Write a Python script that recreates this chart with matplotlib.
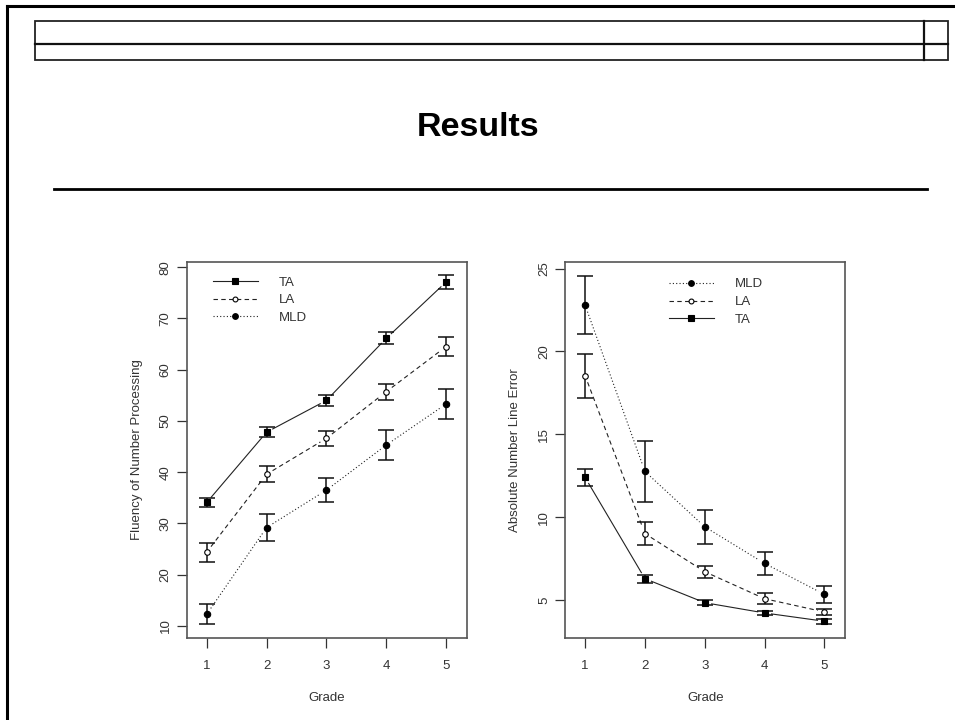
import numpy as np
import matplotlib
matplotlib.use('Agg')
import matplotlib.pyplot as plt
from matplotlib.lines import Line2D
from matplotlib.patches import Rectangle

plt.rcParams['font.family'] = ['Liberation Sans', 'DejaVu Sans']
plt.rcParams['font.size'] = 9

# Dados
grades = [1, 2, 3, 4, 5]

# Painel esquerdo: fluência
flu_ta = [34.1, 47.8, 54.0, 66.1, 77.1]
flu_ta_err = [0.95, 0.95, 1.0, 1.15, 1.3]
flu_la = [24.4, 39.6, 46.6, 55.7, 64.5]
flu_la_err = [1.85, 1.6, 1.45, 1.55, 1.8]
flu_mld = [12.3, 29.2, 36.5, 45.3, 53.3]
flu_mld_err = [2.0, 2.6, 2.35, 2.9, 3.0]

# Painel direito: erro da linha numérica
err_mld = [22.8, 12.76, 9.42, 7.21, 5.34]
err_mld_err = [1.75, 1.83, 1.03, 0.68, 0.5]
err_la = [18.54, 9.01, 6.71, 5.08, 4.28]
err_la_err = [1.33, 0.69, 0.37, 0.34, 0.19]
err_ta = [12.4, 6.29, 4.84, 4.22, 3.72]
err_ta_err = [0.5, 0.25, 0.14, 0.12, 0.14]

left_yticks = [10, 20, 30, 40, 50, 60, 70, 80]
right_yticks = [5, 10, 15, 20, 25]

styles = {
    'TA': {'ls': '-', 'marker': 's', 'mfc': 'black', 'ms': 5},
    'LA': {'ls': (0, (4, 3)), 'marker': 'o', 'mfc': 'white', 'ms': 4},
    'MLD': {'ls': (0, (1, 2)), 'marker': 'o', 'mfc': 'black', 'ms': 4.6},
}

fig = plt.figure(figsize=(9.55, 7.2), dpi=100)


def gapped_line(ax, x, y, gap, ls):
    # linha tipo "b" do R: segmentos com folga em volta dos pontos
    pts = ax.transData.transform(np.column_stack([x, y]))
    inv = ax.transData.inverted()
    for p0, p1 in zip(pts[:-1], pts[1:]):
        d = p1 - p0
        u = d / np.hypot(*d)
        seg = inv.transform(np.array([p0 + u * gap, p1 - u * gap]))
        ax.plot(seg[:, 0], seg[:, 1], color='#222222', lw=0.8, ls=ls)


def painel(ax, series, ylim, yticks, ylabel, order, anchor):
    ax.set_xlim(0.67, 5.35)
    ax.set_ylim(*ylim)
    for name, vals, errs in series:
        st = styles[name]
        gapped_line(ax, grades, vals, 7, st['ls'])
        ax.errorbar(grades, vals, yerr=errs, fmt='none', ecolor='#111111',
                    elinewidth=1.1, capsize=6, capthick=1.1)
        ax.plot(grades, vals, ls='none', marker=st['marker'], ms=st['ms'],
                mfc=st['mfc'], mec='black', mew=0.8, zorder=5)
    ax.set_xticks(grades)
    ax.set_yticks(yticks)
    ax.tick_params(direction='out', length=7, width=0.9, color='#333333',
                   labelcolor='#333333', labelsize=9.5, pad=9)
    ax.tick_params(axis='y', pad=4)
    for lab in ax.get_yticklabels():
        lab.set_rotation(90)
        lab.set_va('center')
    for sp in ax.spines.values():
        sp.set_color('#555555')
        sp.set_linewidth(1.2)
    ax.set_xlabel('Grade', color='#333333', labelpad=14, fontsize=9.5)
    ax.set_ylabel(ylabel, color='#333333', labelpad=12, fontsize=9.5)

    handles = []
    for name in order:
        st = styles[name]
        handles.append(Line2D([], [], color='#222222', lw=0.8, ls=st['ls'],
                              marker=st['marker'], ms=st['ms'] - 0.5,
                              mfc=st['mfc'], mec='black', mew=0.8,
                              label=name))
    ax.legend(handles=handles, loc='upper left', bbox_to_anchor=anchor,
              frameon=False, handlelength=3.4, handletextpad=1.6,
              labelspacing=0.42, borderpad=0, borderaxespad=0, numpoints=1,
              labelcolor='#333333', fontsize=9.5)


ax1 = fig.add_axes([0.1958, 0.1139, 0.2932, 0.5222])
painel(ax1,
       [('TA', flu_ta, flu_ta_err), ('LA', flu_la, flu_la_err),
        ('MLD', flu_mld, flu_mld_err)],
       (7.66, 81.0), left_yticks, 'Fluency of Number Processing',
       ['TA', 'LA', 'MLD'], (0.093, 0.962))

ax2 = fig.add_axes([0.592, 0.1139, 0.2932, 0.5222])
painel(ax2,
       [('MLD', err_mld, err_mld_err), ('LA', err_la, err_la_err),
        ('TA', err_ta, err_ta_err)],
       (2.71, 25.4), right_yticks, 'Absolute Number Line Error',
       ['MLD', 'LA', 'TA'], (0.370, 0.957))

# Moldura do slide e cabeçalho
W, H = 955.0, 720.0
def fx(px):
    return px / W
def fy(py):
    return 1 - py / H

fig.add_artist(Line2D([fx(7), fx(7)], [fy(6), 0], color='black', lw=2.2))
fig.add_artist(Line2D([fx(7), 1], [fy(6), fy(6)], color='black', lw=2.2))
fig.add_artist(Rectangle((fx(35), fy(60)), fx(948) - fx(35), fy(21) - fy(60),
                         fill=False, ec='#222222', lw=1.3))
fig.add_artist(Line2D([fx(35), fx(948)], [fy(44), fy(44)], color='#111111', lw=1.6))
fig.add_artist(Line2D([fx(924), fx(924)], [fy(21), fy(60)], color='#111111', lw=1.6))
fig.add_artist(Line2D([fx(54), fx(927)], [fy(189), fy(189)], color='black', lw=2.0))

fig.text(fx(478), fy(128), 'Results', ha='center', va='center',
         fontsize=24.5, fontweight='bold')

fig.savefig('out.png', dpi=100)
